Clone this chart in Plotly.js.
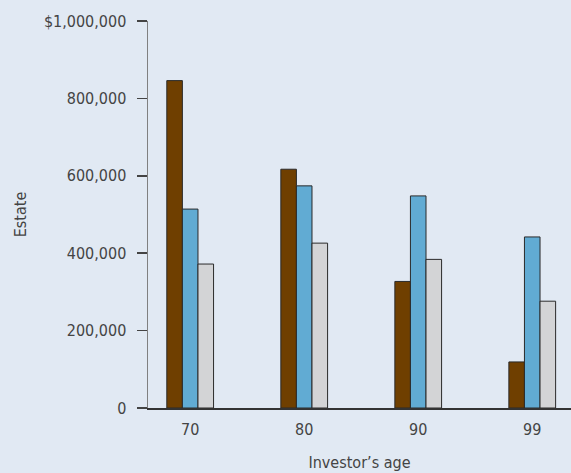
<!DOCTYPE html>
<html>
<head>
<meta charset="utf-8">
<script src="https://cdn.plot.ly/plotly-3.0.1.min.js"></script>
<style>
  html, body { margin: 0; padding: 0; background: #e1e9f3; }
  #chart { width: 571px; height: 473px; }
</style>
</head>
<body>
<div id="chart"></div>
<script>
// Investor's age at which the estate is measured
const ages = ['70', '80', '90', '99'];

// Estate value for each of the three strategies
const strategyA = [846000, 617000, 327000, 119000];
const strategyB = [514000, 574000, 548000, 442000];
const strategyC = [372000, 426000, 384000, 276000];

const yTickVals = [0, 200000, 400000, 600000, 800000, 1000000];
const yTickText = ['0', '200,000', '400,000', '600,000', '800,000', '$1,000,000'];

const FONT = '"DejaVu Sans Condensed", "Roboto", sans-serif';
const TEXT = '#444444';
const outline = { color: '#2a2a2a', width: 1 };

const traces = [
  { x: ages, y: strategyA, name: 'Strategy A', marker: { color: '#6f3f00', line: outline } },
  { x: ages, y: strategyB, name: 'Strategy B', marker: { color: '#61abd3', line: outline } },
  { x: ages, y: strategyC, name: 'Strategy C', marker: { color: '#d3d4d6', line: outline } }
].map(t => Object.assign({ type: 'bar', hoverinfo: 'x+y' }, t));

const layout = {
  width: 571,
  height: 473,
  paper_bgcolor: '#e1e9f3',
  plot_bgcolor: '#e1e9f3',
  margin: { l: 148, r: 0, t: 21, b: 65 },
  showlegend: false,
  barmode: 'group',
  bargap: 0.59,
  bargroupgap: 0,
  font: { family: FONT, size: 16, color: TEXT },
  xaxis: {
    type: 'category',
    range: [-0.37, 3.34],
    showgrid: false,
    zeroline: false,
    showline: true,
    linecolor: '#333333',
    linewidth: 1.5,
    ticks: '',
    ticklabelstandoff: 6,
    tickfont: { family: FONT, size: 16, color: TEXT },
    title: { text: 'Investor’s age', standoff: 19, font: { family: FONT, size: 16, color: TEXT } }
  },
  yaxis: {
    range: [0, 1000000],
    showgrid: false,
    zeroline: false,
    showline: true,
    linecolor: '#808080',
    linewidth: 1.5,
    ticks: 'outside',
    ticklen: 10,
    tickwidth: 1.5,
    tickcolor: '#444444',
    tickvals: yTickVals,
    ticktext: yTickText,
    ticklabelstandoff: 7,
    tickfont: { family: FONT, size: 16, color: TEXT },
    title: { text: 'Estate', standoff: 13, font: { family: FONT, size: 16, color: TEXT } }
  }
};

Plotly.newPlot('chart', traces, layout, { displayModeBar: false, staticPlot: true });
</script>
</body>
</html>
